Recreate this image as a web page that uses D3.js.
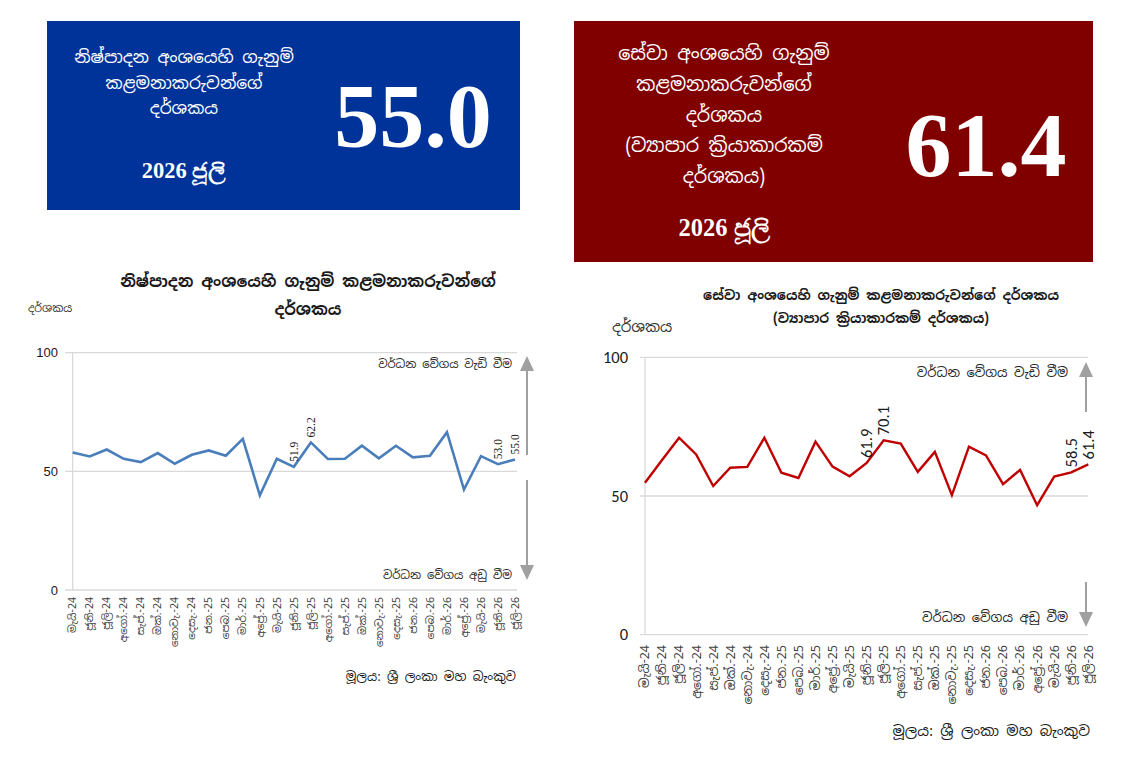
<!DOCTYPE html>
<html>
<head>
<meta charset="utf-8">
<script src="https://cdn.jsdelivr.net/npm/d3@7"></script>
<style>
  body { margin: 0; background: #fff; }
  svg text { font-family: "Noto Sans Sinhala", "Iskoola Pota", "Noto Sans", sans-serif; }
</style>
</head>
<body>
<div id="chart"></div>
<script>
const months = ['මැයි-24','ජූනි-24','ජූලි-24','අගෝ.-24','සැප්.-24','ඔක්.-24','නොවැ.-24','දෙසැ.-24',
  'ජන.-25','පෙබ.-25','මාර්.-25','අප්‍රේ.-25','මැයි-25','ජූනි-25','ජූලි-25','අගෝ.-25','සැප්.-25','ඔක්.-25',
  'නොවැ.-25','දෙසැ.-25','ජන.-26','පෙබ.-26','මාර්.-26','අප්‍රේ.-26','මැයි-26','ජූනි-26','ජූලි-26'];

const manufacturingPMI = [57.9, 56.3, 59.2, 55.3, 53.9, 57.7, 53.2, 57.0, 58.8, 56.6, 63.7, 39.9, 55.3, 51.9,
  62.2, 55.2, 55.3, 60.8, 55.5, 60.8, 55.9, 56.6, 66.5, 42.3, 56.4, 53.0, 55.0];

const servicesPMI = [54.8, 63.0, 71.0, 65.0, 53.6, 60.2, 60.5, 71.0, 58.4, 56.5, 69.6, 60.6, 57.1, 61.9,
  70.1, 68.9, 58.7, 65.9, 50.3, 67.8, 64.6, 54.3, 59.4, 46.7, 57.0, 58.5, 61.4];

const labelledMonths = ['ජූනි-25', 'ජූලි-25', 'ජූනි-26', 'ජූලි-26'];
const yTicks = [0, 50, 100];

const svg = d3.select("#chart")
  .append("svg")
  .attr("width", 1125)
  .attr("height", 768);

// headline boxes
function headline(b) {
  const g = svg.append("g");
  g.append("rect")
    .attr("x", b.x).attr("y", b.y)
    .attr("width", b.w).attr("height", b.h)
    .attr("fill", b.fill);
  b.lines.forEach((t, i) => {
    g.append("text")
      .attr("x", b.textX)
      .attr("y", b.lineY[i])
      .attr("text-anchor", "middle")
      .attr("fill", "#fff")
      .style("font-size", b.lineSize + "px")
      .text(t);
  });
  g.append("text")
    .attr("x", b.textX).attr("y", b.dateY)
    .attr("text-anchor", "middle")
    .attr("fill", "#fff")
    .attr("font-weight", "bold")
    .style("font-family", "'Liberation Serif', 'Times New Roman', serif")
    .style("font-size", b.dateSize + "px")
    .text("2026 ජූලි");
  g.append("text")
    .attr("x", b.bigX).attr("y", b.bigY)
    .attr("text-anchor", "middle")
    .attr("fill", "#fff")
    .attr("font-weight", "bold")
    .style("font-family", "'Liberation Serif', 'Times New Roman', serif")
    .style("font-size", b.bigSize + "px")
    .text(b.value.toFixed(1));
}

headline({
  x: 47, y: 21, w: 473, h: 189, fill: "#003399",
  textX: 184, lineSize: 17,
  lines: ["නිෂ්පාදන අංශයෙහි ගැනුම්", "කළමනාකරුවන්ගේ", "දර්ශකය"],
  lineY: [63, 89, 114],
  dateY: 178, dateSize: 22.5,
  bigX: 413, bigY: 147, bigSize: 90,
  value: manufacturingPMI[manufacturingPMI.length - 1]
});

headline({
  x: 574, y: 21, w: 519, h: 241, fill: "#800000",
  textX: 724, lineSize: 19,
  lines: ["සේවා අංශයෙහි ගැනුම්", "කළමනාකරුවන්ගේ", "දර්ශකය", "(ව්‍යාපාර ක්‍රියාකාරකම්", "දර්ශකය)"],
  lineY: [60, 91, 122, 152, 183],
  dateY: 236, dateSize: 24.5,
  bigX: 986, bigY: 176, bigSize: 92,
  value: servicesPMI[servicesPMI.length - 1]
});

// line charts
function lineChart(c) {
  const g = svg.append("g");

  const x = d3.scalePoint()
    .domain(months)
    .range([c.x0, c.x1]);

  const y = d3.scaleLinear()
    .domain([0, 100])
    .range([c.yBottom, c.yTop]);

  // titles
  c.title.forEach((t, i) => {
    g.append("text")
      .attr("x", c.titleX).attr("y", c.titleY[i])
      .attr("text-anchor", "middle")
      .attr("font-weight", "bold")
      .attr("fill", "#1a1a1a")
      .style("font-size", c.titleSize + "px")
      .text(t);
  });

  g.append("text")
    .attr("x", c.yTitleX).attr("y", c.yTitleY)
    .attr("fill", "#333")
    .style("font-size", c.yTitleSize + "px")
    .text("දර්ශකය");

  // grid
  g.selectAll(".grid")
    .data(yTicks)
    .enter()
    .append("line")
    .attr("x1", c.gridX0).attr("x2", c.gridX1)
    .attr("y1", d => y(d)).attr("y2", d => y(d))
    .attr("stroke", "#d9d9d9")
    .attr("stroke-width", 1.3);

  g.append("line")
    .attr("x1", c.x0).attr("x2", c.x0)
    .attr("y1", y(100)).attr("y2", y(0))
    .attr("stroke", "#d9d9d9")
    .attr("stroke-width", 1.3);

  g.selectAll(".ytick")
    .data(yTicks)
    .enter()
    .append("text")
    .attr("x", c.tickX)
    .attr("y", d => y(d))
    .attr("dy", "0.35em")
    .attr("text-anchor", "end")
    .attr("fill", "#1a1a1a")
    .style("font-family", c.tickFont)
    .style("font-size", c.tickSize + "px")
    .text(d => d);

  // month labels
  g.selectAll(".xlab")
    .data(months)
    .enter()
    .append("text")
    .attr("transform", d => `translate(${x(d) + c.xLabSize * 0.35},${c.xLabY}) rotate(-90)`)
    .attr("text-anchor", "end")
    .attr("fill", "#404040")
    .style("font-size", c.xLabSize + "px")
    .text(d => d);

  // series
  const line = d3.line()
    .x((d, i) => x(months[i]))
    .y(d => y(d));

  g.append("path")
    .datum(c.values)
    .attr("d", line)
    .attr("fill", "none")
    .attr("stroke", c.color)
    .attr("stroke-width", c.lineWidth)
    .attr("stroke-linejoin", "miter");

  // value labels
  g.selectAll(".vlab")
    .data(labelledMonths)
    .enter()
    .append("text")
    .attr("transform", d => {
      const v = c.values[months.indexOf(d)];
      return `translate(${x(d) + c.vLabSize * 0.35},${y(v) - 5}) rotate(-90)`;
    })
    .attr("fill", "#1a1a1a")
    .style("font-family", c.vLabFont)
    .style("font-size", c.vLabSize + "px")
    .text(d => c.values[months.indexOf(d)].toFixed(1));

  // growth arrows
  const ax = c.arrowX;
  g.append("line")
    .attr("x1", ax).attr("x2", ax)
    .attr("y1", c.upTop + 12).attr("y2", c.upBottom)
    .attr("stroke", "#a0a0a0").attr("stroke-width", 2);
  g.append("path")
    .attr("d", `M${ax - 7},${c.upTop + 15}L${ax},${c.upTop}L${ax + 7},${c.upTop + 15}Z`)
    .attr("fill", "#a0a0a0");
  g.append("line")
    .attr("x1", ax).attr("x2", ax)
    .attr("y1", c.downTop).attr("y2", c.downBottom - 12)
    .attr("stroke", "#a0a0a0").attr("stroke-width", 2);
  g.append("path")
    .attr("d", `M${ax - 7},${c.downBottom - 15}L${ax},${c.downBottom}L${ax + 7},${c.downBottom - 15}Z`)
    .attr("fill", "#a0a0a0");

  g.append("text")
    .attr("x", c.noteX).attr("y", c.upNoteY)
    .attr("text-anchor", "end")
    .attr("fill", "#262626")
    .style("font-size", c.noteSize + "px")
    .text("වර්ධන වේගය වැඩි වීම");
  g.append("text")
    .attr("x", c.noteX).attr("y", c.downNoteY)
    .attr("text-anchor", "end")
    .attr("fill", "#262626")
    .style("font-size", c.noteSize + "px")
    .text("වර්ධන වේගය අඩු වීම");

  g.append("text")
    .attr("x", c.sourceX).attr("y", c.sourceY)
    .attr("text-anchor", "end")
    .attr("fill", "#1a1a1a")
    .style("font-size", c.sourceSize + "px")
    .text("මූලය: ශ්‍රී ලංකා  මහ බැංකුව");
}

lineChart({
  values: manufacturingPMI, color: "#4a7ebb", lineWidth: 2.6,
  x0: 72.7, x1: 515, yTop: 352.7, yBottom: 590,
  gridX0: 65, gridX1: 517,
  title: ["නිෂ්පාදන අංශයෙහි ගැනුම් කළමනාකරුවන්ගේ", "දර්ශකය"],
  titleX: 308, titleY: [287, 315], titleSize: 16,
  yTitleX: 28, yTitleY: 312, yTitleSize: 11,
  tickX: 58, tickSize: 13, tickFont: "'Liberation Sans', Arial, sans-serif",
  xLabY: 597, xLabSize: 10.5,
  vLabFont: "'Liberation Serif', 'Times New Roman', serif", vLabSize: 11.5,
  arrowX: 527, upTop: 356, upBottom: 455, downTop: 480, downBottom: 580,
  noteX: 512, upNoteY: 368, downNoteY: 579, noteSize: 11.5,
  sourceX: 516, sourceY: 681, sourceSize: 12.5
});

lineChart({
  values: servicesPMI, color: "#c00000", lineWidth: 2.4,
  x0: 645, x1: 1088.3, yTop: 357.3, yBottom: 634.7,
  gridX0: 640, gridX1: 1088,
  title: ["සේවා අංශයෙහි ගැනුම් කළමනාකරුවන්ගේ දර්ශකය", "(ව්‍යාපාර ක්‍රියාකාරකම් දර්ශකය)"],
  titleX: 881, titleY: [300, 323], titleSize: 13.5,
  yTitleX: 612, yTitleY: 332, yTitleSize: 15,
  tickX: 628, tickSize: 16.5, tickFont: "Carlito, Calibri, 'Liberation Sans', sans-serif",
  xLabY: 645, xLabSize: 12.5,
  vLabFont: "Carlito, Calibri, 'Liberation Sans', sans-serif", vLabSize: 16.5,
  arrowX: 1086, upTop: 362, upBottom: 412, downTop: 582, downBottom: 627,
  noteX: 1068, upNoteY: 377, downNoteY: 622, noteSize: 13,
  sourceX: 1090, sourceY: 736, sourceSize: 14.5
});
</script>
</body>
</html>
